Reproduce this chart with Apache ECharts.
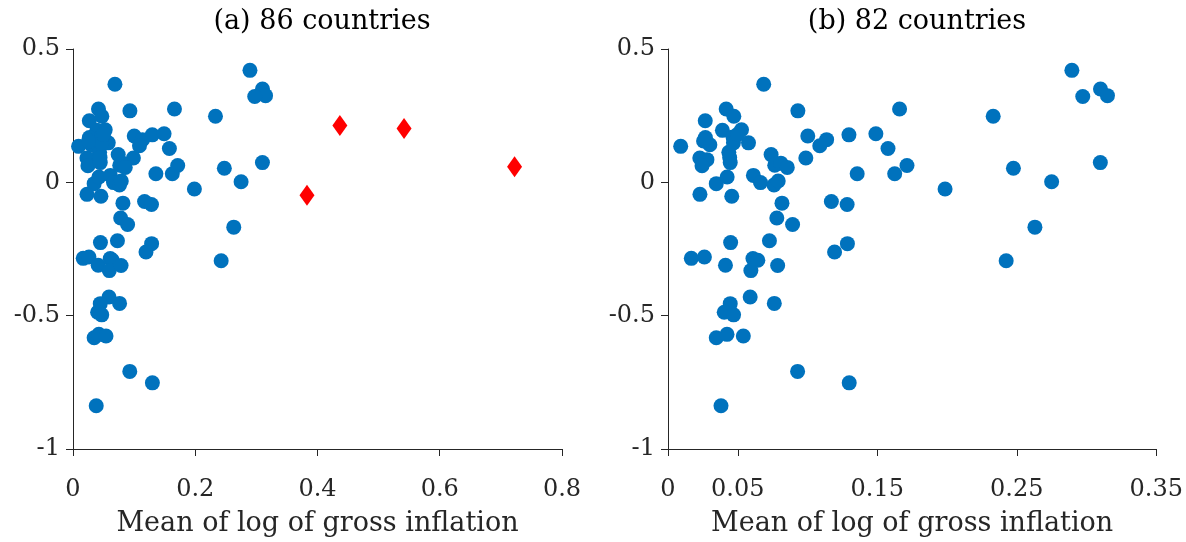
<!DOCTYPE html>
<html>
<head>
<meta charset="utf-8">
<script src="https://cdn.jsdelivr.net/npm/echarts@6/dist/echarts.min.js"></script>
<style>
html,body{margin:0;padding:0;background:#fff;}
#chart{width:1186px;height:542px;}
</style>
</head>
<body>
<div id="chart"></div>
<script>
// Panel titles and axis text
const panelTitles = ['(a) 86 countries', '(b) 82 countries'];
const xAxisName = 'Mean of log of gross inflation';
const leftXTicks = [0, 0.2, 0.4, 0.6, 0.8];
const rightXTicks = [0, 0.05, 0.15, 0.25, 0.35];
const yTicks = [-1, -0.5, 0, 0.5];

// 82 countries (blue circles), shown in both panels
const blueX = [0.0091,0.0686,0.0267,0.0417,0.0472,0.0931,0.1660,0.2895,0.3100,0.3150,
  0.2973,0.2331,0.0390,0.0527,0.0268,0.0466,0.0300,0.0577,0.1002,0.1137,
  0.1088,0.1297,0.1490,0.1577,0.0436,0.0228,0.0279,0.0244,0.0446,0.0739,
  0.0988,0.0765,0.0809,0.0855,0.1356,0.1625,0.1713,0.2476,0.3099,0.1986,
  0.2750,0.0346,0.0424,0.0612,0.0663,0.0760,0.0790,0.0229,0.0457,0.0817,
  0.1171,0.1284,0.0780,0.0893,0.2630,0.0449,0.0727,0.1286,0.1194,0.0167,
  0.0261,0.0412,0.0609,0.0644,0.0594,0.0786,0.2424,0.0589,0.0762,0.0446,
  0.0403,0.0470,0.0346,0.0423,0.0540,0.0929,0.1299,0.0380,0.0469,0.0442,
  0.0255,0.0500];
const blueY = [0.135,0.368,0.231,0.275,0.248,0.268,0.275,0.420,0.350,0.325,
  0.322,0.248,0.195,0.197,0.168,0.170,0.141,0.148,0.174,0.160,
  0.137,0.178,0.182,0.127,0.113,0.091,0.085,0.062,0.074,0.104,
  0.091,0.064,0.072,0.056,0.032,0.032,0.063,0.053,0.074,-0.025,
  0.002,-0.005,0.020,0.026,-0.001,-0.010,0.005,-0.045,-0.052,-0.078,
  -0.072,-0.083,-0.134,-0.158,-0.168,-0.226,-0.219,-0.230,-0.261,-0.285,
  -0.280,-0.311,-0.286,-0.292,-0.331,-0.312,-0.294,-0.430,-0.454,-0.455,
  -0.487,-0.497,-0.583,-0.570,-0.576,-0.709,-0.752,-0.838,0.148,0.093,
  0.155,0.180];

// 4 high-inflation countries (red diamonds), left panel only
const redX = [0.3828, 0.4366, 0.5416, 0.7224];
const redY = [-0.048, 0.213, 0.202, 0.058];

const blueData = blueX.map((x, i) => [x, blueY[i]]);
const redData = redX.map((x, i) => [x, redY[i]]);

const FONT = 'DejaVu Serif';
const AX = '#262626';
const fmt = v => String(parseFloat(Number(v).toFixed(2)));

function xAxis(gridIndex, max, interval, ticks) {
  return {
    type: 'value', gridIndex, min: 0, max, interval,
    name: xAxisName, nameLocation: 'middle', nameGap: 61,
    nameTextStyle: {fontFamily: FONT, fontSize: 27, color: AX},
    axisLine: {show: true, onZero: false, lineStyle: {color: AX, width: 1}},
    axisTick: {show: true, inside: false, length: 7, lineStyle: {color: AX}, customValues: ticks},
    axisLabel: {fontFamily: FONT, fontSize: 24, color: AX, margin: 29, formatter: fmt, customValues: ticks},
    splitLine: {show: false}
  };
}
function yAxis(gridIndex) {
  return {
    type: 'value', gridIndex, min: yTicks[0], max: yTicks[yTicks.length - 1], interval: 0.5,
    axisLine: {show: true, onZero: false, lineStyle: {color: AX, width: 1}},
    axisTick: {show: true, inside: false, length: 7, lineStyle: {color: AX}},
    axisLabel: {fontFamily: FONT, fontSize: 24, color: AX, margin: 13, formatter: fmt},
    splitLine: {show: false}
  };
}

const chart = echarts.init(document.getElementById('chart'));
chart.setOption({
  backgroundColor: '#fff',
  animation: false,
  title: [
    {text: panelTitles[0], left: 317, top: 3, textAlign: 'center',
     textStyle: {fontFamily: FONT, fontSize: 27, fontWeight: 'normal', color: '#000'}},
    {text: panelTitles[1], left: 912, top: 3, textAlign: 'center',
     textStyle: {fontFamily: FONT, fontSize: 27, fontWeight: 'normal', color: '#000'}}
  ],
  grid: [
    {left: 73, top: 49, width: 489, height: 404},
    {left: 668, top: 49, width: 488.6, height: 404}
  ],
  xAxis: [xAxis(0, 0.8, 0.2, leftXTicks), xAxis(1, 0.35, 0.05, rightXTicks)],
  yAxis: [yAxis(0), yAxis(1)],
  series: [
    {type: 'scatter', xAxisIndex: 0, yAxisIndex: 0, data: blueData,
     symbol: 'circle', symbolSize: 15, itemStyle: {color: '#0072BD', opacity: 1}},
    {type: 'scatter', xAxisIndex: 0, yAxisIndex: 0, data: redData,
     symbol: 'diamond', symbolSize: [15, 21], itemStyle: {color: '#FF0000', opacity: 1}},
    {type: 'scatter', xAxisIndex: 1, yAxisIndex: 1, data: blueData,
     symbol: 'circle', symbolSize: 15, itemStyle: {color: '#0072BD', opacity: 1}}
  ]
});
</script>
</body>
</html>
